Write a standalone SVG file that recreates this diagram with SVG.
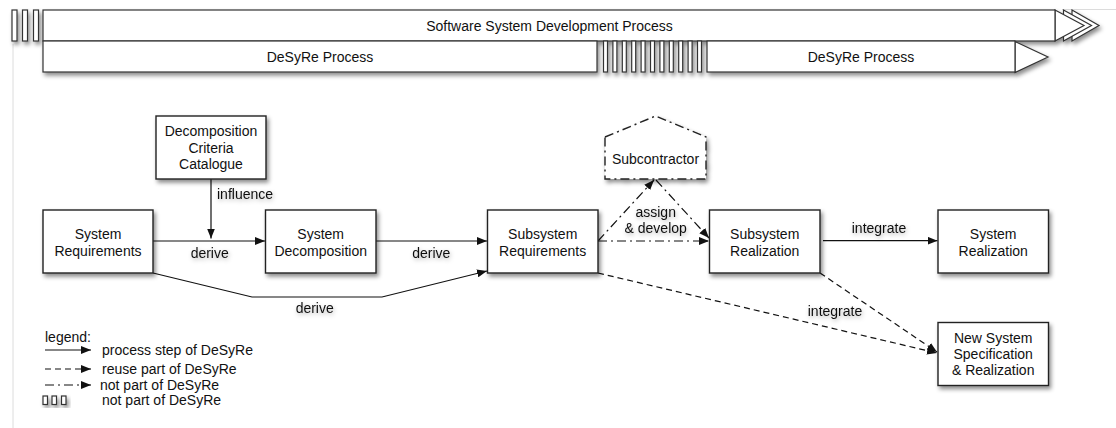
<svg xmlns="http://www.w3.org/2000/svg" width="1116" height="428" viewBox="0 0 1116 428">
<defs>
<style>
text{font-family:"Liberation Sans",Arial,Helvetica,sans-serif;font-size:14px;fill:#111}
.c{text-anchor:middle}
.box{fill:#fff;stroke:#222;stroke-width:1.4}
.bar{fill:#fff;stroke:#333;stroke-width:1.2}
.ln{fill:none;stroke:#111;stroke-width:1.2}
.dash{stroke-dasharray:6 4}
.dd{stroke-dasharray:9 4 2 4}
.lbl{filter:url(#tsh)}
</style>
<filter id="sh" x="-20%" y="-20%" width="140%" height="160%">
<feDropShadow dx="2" dy="3" stdDeviation="2" flood-color="#000" flood-opacity="0.45"/>
</filter>
<filter id="tsh" x="-20%" y="-40%" width="140%" height="180%">
<feDropShadow dx="1" dy="2" stdDeviation="2" flood-color="#000" flood-opacity="0.3"/>
</filter>
<marker id="ah" viewBox="0 0 10 8" refX="10" refY="4" markerWidth="10" markerHeight="8" markerUnits="userSpaceOnUse" orient="auto">
<path d="M0,0 L10,4 L0,8 Z" fill="#111"/>
</marker>
</defs>
<rect width="1116" height="428" fill="#fff"/>
<line x1="13" y1="44" x2="13" y2="428" stroke="#dcdcdc" stroke-width="1"/>
<line x1="1062" y1="9.5" x2="1116" y2="9.5" stroke="#dcdcdc" stroke-width="1"/>

<g id="process-bars" filter="url(#sh)">
<rect class="bar" x="12" y="10" width="5" height="31"/>
<rect class="bar" x="22.5" y="10" width="5" height="31"/>
<rect class="bar" x="33.5" y="10" width="5" height="31"/>
<polygon class="bar" points="1072,10 1099,25.5 1072,41"/>
<polygon class="bar" points="1063.5,10 1091.5,25.5 1063.5,41"/>
<polygon class="bar" points="1055,10 1084,25.5 1055,41"/>
<rect class="bar" x="43" y="10" width="1012" height="31"/>
<rect class="bar" x="43" y="41" width="554" height="31"/>
<rect class="bar" x="603.5" y="41" width="4" height="31"/>
<rect class="bar" x="612.9" y="41" width="4" height="31"/>
<rect class="bar" x="622.3" y="41" width="4" height="31"/>
<rect class="bar" x="631.7" y="41" width="4" height="31"/>
<rect class="bar" x="641.1" y="41" width="4" height="31"/>
<rect class="bar" x="650.5" y="41" width="4" height="31"/>
<rect class="bar" x="659.9" y="41" width="4" height="31"/>
<rect class="bar" x="669.3" y="41" width="4" height="31"/>
<rect class="bar" x="678.7" y="41" width="4" height="31"/>
<rect class="bar" x="688.1" y="41" width="4" height="31"/>
<rect class="bar" x="697.5" y="41" width="4" height="31"/>
<polygon class="bar" points="1015,41.5 1048,57 1015,72.5"/>
<rect class="bar" x="707" y="41" width="308" height="31"/>
</g>
<g id="process-labels">
<text class="c" x="549.5" y="30.5">Software System Development Process</text>
<text class="c" x="320" y="61.5">DeSyRe Process</text>
<text class="c" x="861" y="61.5">DeSyRe Process</text>
</g>

<g id="connectors">
<line class="ln" x1="211" y1="179" x2="211" y2="238.5" marker-end="url(#ah)"/>
<line class="ln" x1="153" y1="241" x2="265" y2="241" marker-end="url(#ah)"/>
<line class="ln" x1="376" y1="241" x2="487" y2="241" marker-end="url(#ah)"/>
<polyline class="ln" points="153,273 252,297 382,297 487,271" marker-end="url(#ah)"/>
<line class="ln dd" x1="598" y1="241" x2="654" y2="180" marker-end="url(#ah)"/>
<line class="ln dd" x1="656" y1="180" x2="709" y2="238" marker-end="url(#ah)"/>
<line class="ln dd" x1="598" y1="241" x2="709" y2="241" marker-end="url(#ah)"/>
<line class="ln" x1="823" y1="240.7" x2="937.5" y2="240.7" marker-end="url(#ah)"/>
<line class="ln dash" x1="820" y1="273" x2="937" y2="352" marker-end="url(#ah)"/>
<line class="ln dash" x1="598" y1="273" x2="937" y2="353" marker-end="url(#ah)"/>
</g>
<g id="connector-labels" class="lbl">
<text x="217" y="198.5">influence</text>
<text class="c" x="209.7" y="258">derive</text>
<text class="c" x="431.3" y="258">derive</text>
<text class="c" x="314.7" y="313">derive</text>
<text class="c" x="655.7" y="217">assign</text>
<text class="c" x="655.7" y="233">&amp; develop</text>
<text class="c" x="879" y="233">integrate</text>
<text class="c" x="835" y="316">integrate</text>
</g>

<g id="n-criteria">
<rect class="box" x="156" y="116" width="110" height="63" filter="url(#sh)"/>
<text class="c" x="211" y="136">Decomposition</text>
<text class="c" x="211" y="152.5">Criteria</text>
<text class="c" x="211" y="168.5">Catalogue</text>
</g>
<g id="n-sysreq">
<rect class="box" x="43" y="210" width="110" height="63" filter="url(#sh)"/>
<text class="c" x="98" y="239">System</text>
<text class="c" x="98" y="255.5">Requirements</text>
</g>
<g id="n-sysdecomp">
<rect class="box" x="265.5" y="210" width="110.5" height="63" filter="url(#sh)"/>
<text class="c" x="320.7" y="239">System</text>
<text class="c" x="320.7" y="255.5">Decomposition</text>
</g>
<g id="n-subreq">
<rect class="box" x="487.5" y="210" width="110.5" height="63" filter="url(#sh)"/>
<text class="c" x="542.7" y="239">Subsystem</text>
<text class="c" x="542.7" y="255.5">Requirements</text>
</g>
<g id="n-subcontractor">
<polygon class="box dd" points="605,137 655.7,116 706,137 706,179 605,179" filter="url(#sh)"/>
<text class="c" x="655.5" y="163.5">Subcontractor</text>
</g>
<g id="n-subreal">
<rect class="box" x="709.5" y="210" width="110.5" height="63" filter="url(#sh)"/>
<text class="c" x="764.7" y="239">Subsystem</text>
<text class="c" x="764.7" y="255.5">Realization</text>
</g>
<g id="n-sysreal">
<rect class="box" x="938" y="210" width="110.5" height="63" filter="url(#sh)"/>
<text class="c" x="993.2" y="239">System</text>
<text class="c" x="993.2" y="255.5">Realization</text>
</g>
<g id="n-newsys">
<rect class="box" x="938" y="322.5" width="110.5" height="63" filter="url(#sh)"/>
<text class="c" x="993.2" y="342.5">New System</text>
<text class="c" x="993.2" y="359">Specification</text>
<text class="c" x="993.2" y="375">&amp; Realization</text>
</g>

<g id="legend">
<text x="45" y="342">legend:</text>
<line class="ln" x1="45" y1="350" x2="91" y2="350" marker-end="url(#ah)"/>
<text x="102" y="354.5">process step of DeSyRe</text>
<line class="ln dash" x1="45" y1="369" x2="91" y2="369" marker-end="url(#ah)"/>
<text x="102" y="373.5">reuse part of DeSyRe</text>
<line class="ln dd" x1="45" y1="385" x2="91" y2="385" marker-end="url(#ah)"/>
<text x="100" y="389.5">not part of DeSyRe</text>
<g filter="url(#sh)">
<rect class="bar" x="43" y="396" width="4.5" height="8.5"/>
<rect class="bar" x="52" y="396" width="4.5" height="8.5"/>
<rect class="bar" x="61.5" y="396" width="4.5" height="8.5"/>
</g>
<text x="102" y="405">not part of DeSyRe</text>
</g>
</svg>
